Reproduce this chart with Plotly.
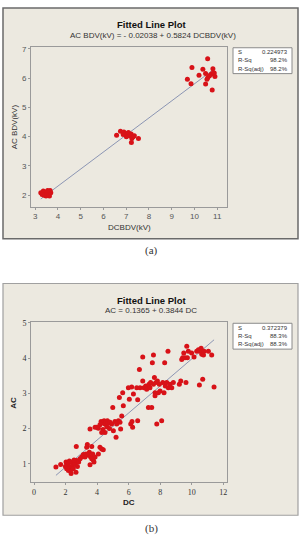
import plotly.graph_objects as go

W, H = 302, 559

# ---------------- Data: chart (a) ----------------
a_dc = [3.25, 3.36, 3.44, 3.51, 3.58, 3.63, 3.69, 3.48, 3.39, 3.66, 3.31, 3.55,
        6.58, 6.75, 6.90, 6.99, 7.04, 7.10, 7.16, 7.22, 7.25, 7.31, 7.36, 7.23, 7.54, 7.01, 6.87,
        9.69, 9.89, 9.85, 10.20, 10.37, 10.58, 10.49, 10.49, 10.59, 10.66, 10.74, 10.81,
        10.78, 10.87, 10.90, 10.78, 10.55]
a_ac = [2.08, 2.14, 2.02, 2.11, 2.04, 1.97, 2.08, 1.97, 2.00, 2.16, 2.02, 2.16,
        4.05, 4.18, 4.16, 4.11, 4.07, 4.14, 4.03, 4.09, 3.94, 4.00, 4.03, 3.80, 3.94, 4.00, 4.07,
        5.96, 6.36, 5.81, 6.10, 6.30, 6.66, 6.16, 5.80, 6.02, 6.08, 6.13, 6.32,
        6.16, 6.17, 6.05, 5.59, 5.96]
a_coef = [-0.02038, 0.5824]
a_stats_labels = ["S", "R-Sq", "R-Sq(adj)"]
a_stats_values = ["0.224973", "98.2%", "98.2%"]

# ---------------- Data: chart (b) ----------------
b_dc = [1.39, 1.69, 2.03, 2.07, 2.18, 2.28, 2.32, 2.39, 2.45, 2.49, 2.60, 2.66, 2.70, 2.75,
        2.83, 2.68, 2.92, 2.18, 2.07, 2.35, 2.54, 1.99, 2.24,
        3.02, 3.13, 3.23, 3.34, 3.38, 3.44, 3.51, 3.55, 3.59, 3.66, 3.72, 3.76, 3.80, 3.87,
        3.55, 4.08, 4.18, 4.29, 4.39, 3.30, 3.66,
        3.87, 3.97, 4.08, 4.18, 4.25, 4.31, 4.37, 4.44, 4.50, 4.56, 4.61, 4.65, 4.71, 4.78,
        4.82, 4.92, 4.99, 5.03, 5.13, 5.20, 5.24, 5.35, 5.41, 5.49, 5.56, 5.62, 5.66, 4.50,
        4.29, 5.45,
        5.98, 6.04, 6.13, 6.21, 6.25, 6.30, 6.19, 6.51, 6.57, 6.57, 6.68, 6.72, 6.89, 6.89,
        6.97, 7.08, 7.14, 7.25, 7.29, 7.35, 7.39, 7.46, 7.50, 7.57, 7.57, 7.63, 7.67, 7.73,
        7.78, 7.82, 7.88, 7.94, 7.99, 8.09, 8.16, 8.24, 8.28, 8.32, 8.41, 8.49, 8.51, 8.62,
        8.73, 8.83, 7.67,
        9.21, 9.30, 9.36, 9.42, 9.49, 9.57, 9.63, 9.68, 9.72, 9.78, 9.99, 10.14, 10.31,
        10.42, 10.48, 10.52, 10.59, 10.63, 10.69, 10.78, 11.05, 11.26, 11.41, 10.74]
b_ac = [0.91, 0.98, 1.05, 0.95, 1.00, 0.91, 0.81, 1.05, 0.95, 0.86, 1.00, 0.76, 1.09, 0.92,
        1.05, 1.49, 1.14, 0.81, 0.86, 0.72, 1.11, 0.92, 1.08,
        1.19, 1.26, 1.19, 1.47, 1.55, 1.24, 1.33, 0.97, 1.19, 1.49, 1.28, 1.11, 1.05, 1.19,
        1.99, 1.28, 1.47, 1.42, 1.40, 1.28, 1.14,
        2.04, 2.04, 2.01, 2.11, 2.20, 2.16, 1.97, 2.22, 2.13, 2.20, 2.05, 2.22, 2.15, 2.00,
        2.18, 2.13, 2.60, 1.94, 2.20, 1.75, 2.13, 2.22, 2.88, 1.99, 2.36, 3.02, 2.65, 1.89,
        1.89, 2.18,
        3.16, 2.83, 2.13, 2.20, 2.04, 2.98, 3.18, 3.16, 2.82, 2.22, 3.68, 3.16, 4.03, 3.35,
        3.16, 3.21, 3.12, 2.60, 3.26, 3.16, 3.31, 2.60, 3.87, 4.09, 3.26, 3.45, 3.02, 3.31,
        2.13, 3.35, 3.02, 3.26, 3.07, 2.22, 3.31, 3.02, 3.87, 3.21, 3.31, 4.20, 3.16, 3.26,
        3.16, 3.31, 2.93,
        3.26, 3.35, 3.96, 4.01, 4.15, 4.01, 3.31, 4.34, 4.01, 4.20, 4.15, 4.03, 4.20,
        4.24, 3.24, 4.20, 4.28, 4.11, 3.40, 4.20, 4.20, 4.09, 3.18, 4.09]
b_coef = [0.1365, 0.3844]
b_stats_labels = ["S", "R-Sq", "R-Sq(adj)"]
b_stats_values = ["0.372379", "88.3%", "88.3%"]

# ---------------- helpers ----------------
def px_x(p):
    return p / W

def px_y(p):
    return 1 - p / H

RED = "#D81218"
LINE = "#8C96B4"
BEIGE = "#ECE9E0"
SANS = "Liberation Sans Narrow, Liberation Sans, Arial, sans-serif"
SERIF = "Liberation Serif, DejaVu Serif, serif"

fig = go.Figure()

def fit_line(xs, coef):
    x0, x1 = min(xs), max(xs)
    return [x0, x1], [coef[0] + coef[1] * x0, coef[0] + coef[1] * x1]

# chart (a)
lx, ly = fit_line(a_dc, a_coef)
fig.add_trace(go.Scatter(x=lx, y=ly, mode="lines", line=dict(color=LINE, width=1),
                         xaxis="x", yaxis="y", showlegend=False, hoverinfo="skip"))
fig.add_trace(go.Scatter(x=a_dc, y=a_ac, mode="markers",
                         marker=dict(color=RED, size=5, line=dict(width=0)),
                         xaxis="x", yaxis="y", showlegend=False))
# chart (b)
lx, ly = fit_line(b_dc, b_coef)
fig.add_trace(go.Scatter(x=lx, y=ly, mode="lines", line=dict(color=LINE, width=1),
                         xaxis="x2", yaxis="y2", showlegend=False, hoverinfo="skip"))
fig.add_trace(go.Scatter(x=b_dc, y=b_ac, mode="markers",
                         marker=dict(color=RED, size=5, line=dict(width=0)),
                         xaxis="x2", yaxis="y2", showlegend=False))

axis_common = dict(showline=True, mirror=True, linecolor="#9a9a9a", linewidth=1,
                   ticks="outside", ticklen=2, tickcolor="#9a9a9a", showgrid=False,
                   zeroline=False, fixedrange=True)

xdom = [px_x(31), px_x(227)]
fig.update_layout(
    width=W, height=H, autosize=False,
    margin=dict(l=0, r=0, t=0, b=0),
    paper_bgcolor="white", plot_bgcolor="white",
    xaxis=dict(domain=xdom, range=[2.82, 11.43], dtick=1, tick0=3, anchor="y",
               tickfont=dict(family=SANS, size=8, color="#555"), **axis_common),
    yaxis=dict(domain=[px_y(205), px_y(44)], range=[1.6, 7.07], dtick=1, tick0=2, anchor="x",
               tickfont=dict(family=SANS, size=8, color="#555"), **axis_common),
    xaxis2=dict(domain=xdom, range=[-0.19, 12.23], dtick=2, tick0=0, anchor="y2",
                tickfont=dict(family=SERIF, size=8, color="#333"), **axis_common),
    yaxis2=dict(domain=[px_y(482), px_y(321)], range=[0.47, 5.02], dtick=1, tick0=1, anchor="x2",
                tickfont=dict(family=SERIF, size=8, color="#333"), **axis_common),
)

shapes = [
    dict(type="rect", xref="paper", yref="paper", layer="below",
         x0=px_x(3), x1=px_x(298), y0=px_y(237), y1=px_y(5),
         fillcolor=BEIGE, line=dict(color="#6a6a6a", width=1.5)),
    dict(type="rect", xref="paper", yref="paper", layer="below",
         x0=px_x(3), x1=px_x(298), y0=px_y(515), y1=px_y(282),
         fillcolor=BEIGE, line=dict(color="#a0a0a0", width=1.2)),
    dict(type="rect", xref="paper", yref="paper",
         x0=px_x(233), x1=px_x(292), y0=px_y(71), y1=px_y(45),
         fillcolor="white", line=dict(color="#8a8a8a", width=1)),
    dict(type="rect", xref="paper", yref="paper",
         x0=px_x(233), x1=px_x(292), y0=px_y(348), y1=px_y(322),
         fillcolor="white", line=dict(color="#8a8a8a", width=1)),
]

ann = []

def text(x, y, s, size, color="#222", family=SANS, xanchor="center", angle=0):
    ann.append(dict(x=px_x(x), y=px_y(y), xref="paper", yref="paper", text=s,
                    showarrow=False, xanchor=xanchor, yanchor="middle", textangle=angle,
                    font=dict(family=family, size=size, color=color)))

# chart (a) texts
text(151, 22, "<b>Fitted Line Plot</b>", 9.5, "#111")
text(153, 33, "AC BDV(kV) = - 0.02038 + 0.5824 DCBDV(kV)", 8, "#333")
text(129, 226, "DCBDV(kV)", 8, "#333")
text(14, 125, "AC BDV(kV)", 8, "#333", angle=-90)
for i, (lab, val) in enumerate(zip(a_stats_labels, a_stats_values)):
    yy = 49.5 + i * 8.3
    text(236, yy, lab, 6, "#333", xanchor="left")
    text(290, yy, val, 6, "#333", xanchor="right")
text(151, 249, "(a)", 11, "#333", family=SERIF)

# chart (b) texts
text(151, 299, "<b>Fitted Line Plot</b>", 9.5, "#111")
text(151, 309.5, "AC = 0.1365 + 0.3844 DC", 8, "#333")
text(129, 502, "<b>DC</b>", 8, "#222")
text(14, 402, "<b>AC</b>", 8, "#222", angle=-90)
for i, (lab, val) in enumerate(zip(b_stats_labels, b_stats_values)):
    yy = 326.5 + i * 8.3
    text(236, yy, lab, 6, "#333", xanchor="left")
    text(290, yy, val, 6, "#333", xanchor="right")
text(151, 528, "(b)", 11, "#333", family=SERIF)

fig.update_layout(shapes=shapes, annotations=ann)
fig.write_html("out.html")
